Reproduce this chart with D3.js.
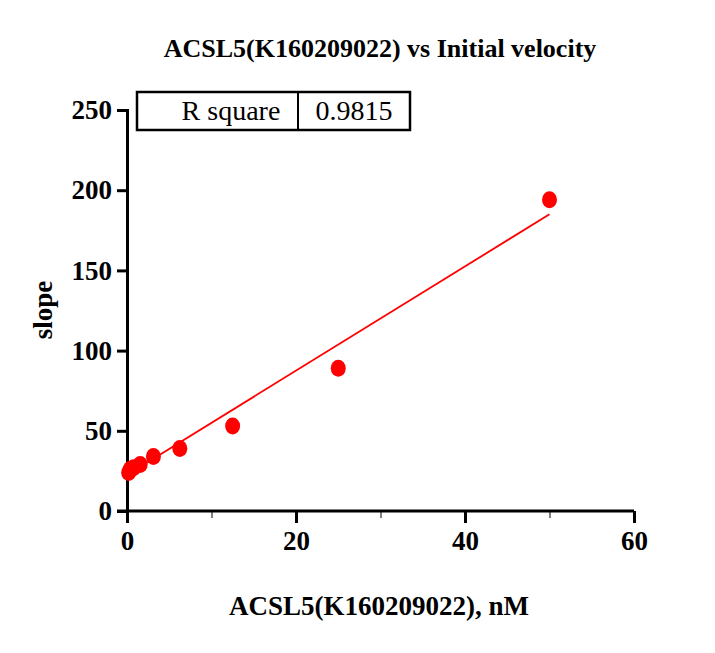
<!DOCTYPE html>
<html><head><meta charset="utf-8">
<script src="https://cdn.jsdelivr.net/npm/d3@7"></script>
<style>body{margin:0;background:#fff}text{font-family:"Liberation Serif","Times New Roman",serif}</style>
</head><body>
<script>
// data
var conc = [0.195, 0.39, 0.78, 1.56, 3.125, 6.25, 12.5, 25, 50];
var slope = [24, 26, 27, 29, 34, 39, 53, 89, 194];
var fit = [22.5, 3.25]; // intercept, slope of the linear fit
var xTicks = [0, 20, 40, 60], xMinor = [10, 30, 50];
var yTicks = [0, 50, 100, 150, 200, 250];

var svg = d3.select('body').append('svg').attr('width', 715).attr('height', 653);
var x = d3.scaleLinear().domain([0, 60]).range([127, 634]);
var y = d3.scaleLinear().domain([0, 250]).range([511, 110]);

svg.append('text').attr('x', 380).attr('y', 57).attr('text-anchor', 'middle')
  .style('font-size', '26px').style('font-weight', 'bold')
  .text('ACSL5(K160209022) vs Initial velocity');

var xa = svg.append('g').attr('transform', 'translate(0,511)')
  .call(d3.axisBottom(x).tickValues(xTicks).tickSize(12).tickPadding(8));
svg.append('g').attr('transform', 'translate(0,511)')
  .call(d3.axisBottom(x).tickValues(xMinor).tickSize(7).tickFormat(''))
  .select('.domain').remove();
var ya = svg.append('g').attr('transform', 'translate(127,0)')
  .call(d3.axisLeft(y).tickValues(yTicks).tickSize(10).tickPadding(5));
[xa, ya].forEach(function (a) {
  a.selectAll('path,line').attr('stroke', '#000').attr('stroke-width', 3);
  a.selectAll('text').style('font-size', '27px').style('font-weight', 'bold')
    .style('font-family', '"Liberation Serif",serif').attr('fill', '#000');
});
xa.select('.domain').attr('d', 'M117,0H634');

svg.append('text').attr('x', 379).attr('y', 615).attr('text-anchor', 'middle')
  .style('font-size', '27px').style('font-weight', 'bold').text('ACSL5(K160209022), nM');
svg.append('text').attr('transform', 'translate(52,310) rotate(-90)').attr('text-anchor', 'middle')
  .style('font-size', '27px').style('font-weight', 'bold').text('slope');

svg.append('line')
  .attr('x1', x(conc[0])).attr('y1', y(fit[0] + fit[1] * conc[0]))
  .attr('x2', x(50)).attr('y2', y(fit[0] + fit[1] * 50))
  .attr('stroke', 'red').attr('stroke-width', 1.8);

svg.selectAll('.pt').data(conc).enter().append('ellipse')
  .attr('cx', function (d) { return x(d); })
  .attr('cy', function (d, i) { return y(slope[i]); })
  .attr('rx', 7.5).attr('ry', 8.5).attr('fill', 'red');

var lg = svg.append('g');
lg.append('rect').attr('x', 137).attr('y', 92).attr('width', 273).attr('height', 38)
  .attr('fill', 'none').attr('stroke', '#000').attr('stroke-width', 2.5);
lg.append('line').attr('x1', 298).attr('x2', 298).attr('y1', 92).attr('y2', 130)
  .attr('stroke', '#000').attr('stroke-width', 2);
lg.append('text').attr('x', 231).attr('y', 120).attr('text-anchor', 'middle')
  .style('font-size', '28px').text('R square');
lg.append('text').attr('x', 354).attr('y', 120).attr('text-anchor', 'middle')
  .style('font-size', '28px').text('0.9815');
</script>
</body></html>
